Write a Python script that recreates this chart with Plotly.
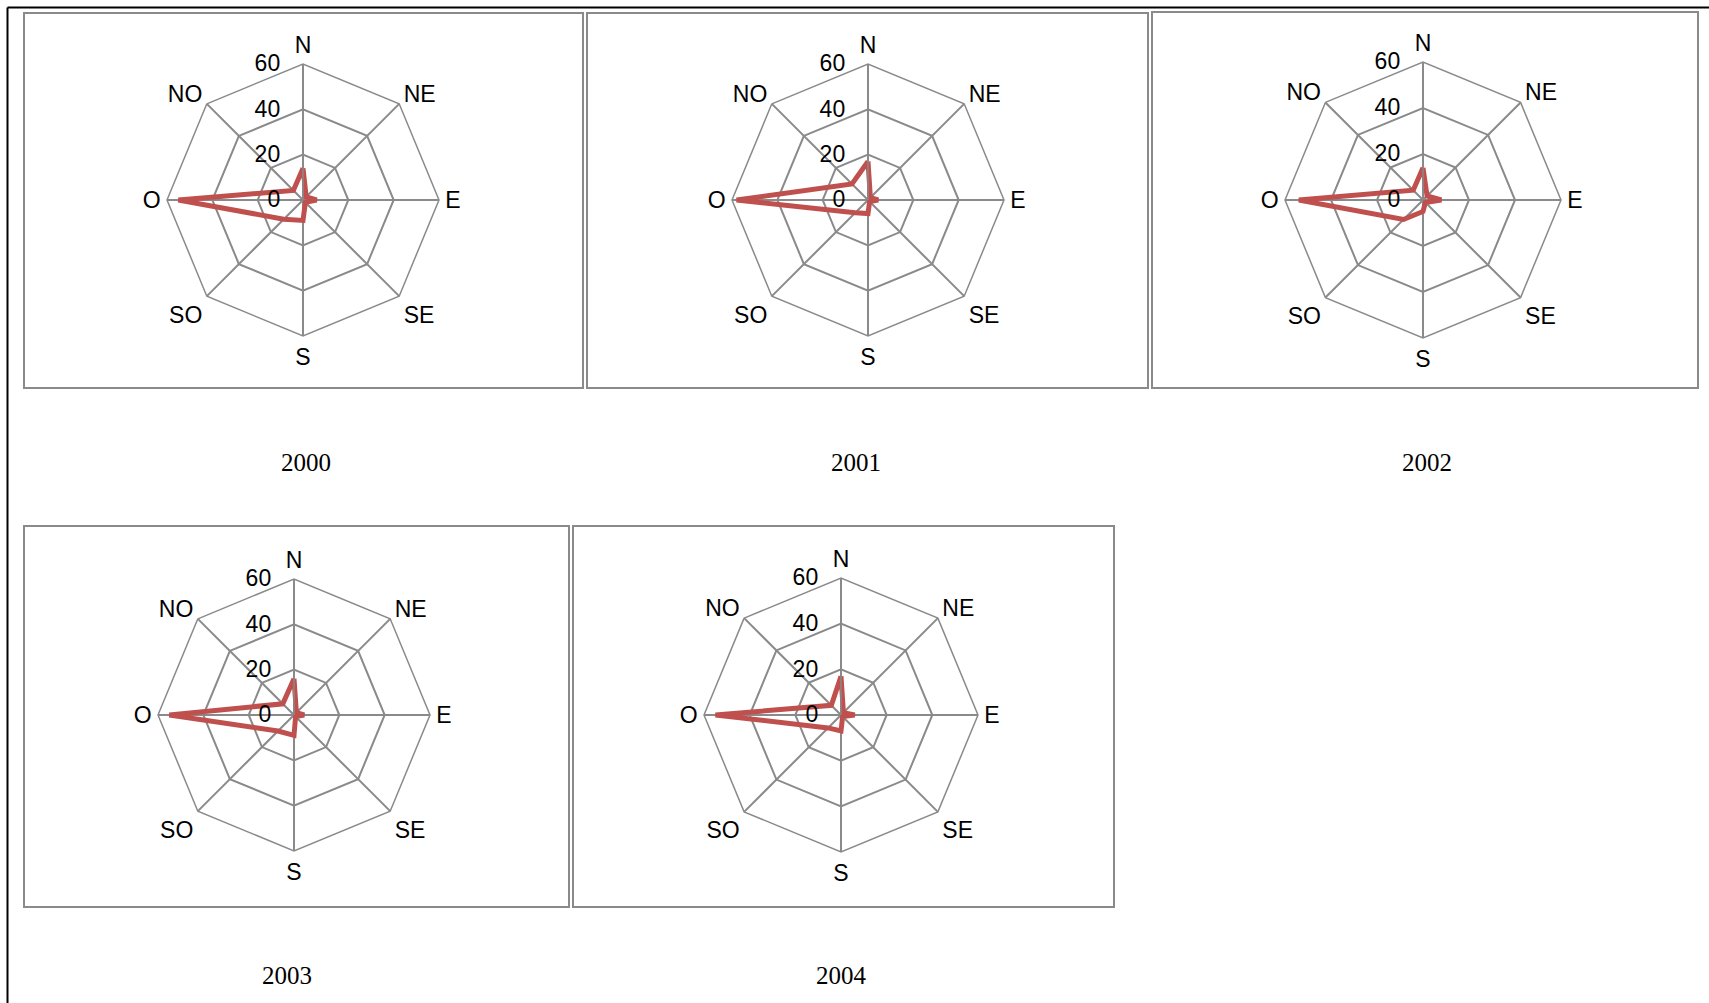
import plotly.graph_objects as go

# Wind direction frequency (%) per year
directions = ["N", "NE", "E", "SE", "S", "SO", "O", "NO"]
years = ["2000", "2001", "2002", "2003", "2004"]
freq_2000 = [14, 2, 6, 1.5, 9, 12, 55, 6]
freq_2001 = [17, 1.5, 4.5, 1, 6, 8, 58, 10]
freq_2002 = [14, 2.5, 8, 1.5, 5, 12, 54, 6]
freq_2003 = [16, 1.5, 4.5, 1, 9, 10, 55, 7]
freq_2004 = [17, 1.5, 6, 1, 7, 8, 55, 6]
radial_ticks = [0, 20, 40, 60]

series = [freq_2000, freq_2001, freq_2002, freq_2003, freq_2004]

W, H = 1709, 1003
GRID = "#8a8a8a"
RED = "#C0504D"
CLEAR = "rgba(0,0,0,0)"
SANS = "Liberation Sans, Arial, sans-serif"
SERIF = "Liberation Serif, Times New Roman, serif"

# panel layout in pixels: chart centre, chart radius, frame box, caption position
centres = [(303, 200), (868, 200), (1423, 200), (294, 715), (841, 715)]
radius = [136, 136, 138, 136, 137]
frames = [(24, 13, 583, 388), (587, 13, 1148, 388), (1152, 12, 1698, 388),
          (24, 526, 569, 907), (573, 526, 1114, 907)]
captions = [(306, 462), (856, 462), (1427, 462), (287, 975), (841, 975)]

fig = go.Figure()
layout = {}
for i, (yr, vals) in enumerate(zip(years, series)):
    key = "polar" if i == 0 else f"polar{i + 1}"
    fig.add_trace(go.Scatterpolar(
        r=vals + [vals[0]], theta=directions + [directions[0]],
        mode="lines", line=dict(color=RED, width=5),
        subplot=key, name=yr, showlegend=False, hoverinfo="r+theta",
    ))
    cx, cy = centres[i]
    R = radius[i]
    layout[key] = dict(
        domain=dict(x=[(cx - R) / W, (cx + R) / W],
                    y=[1 - (cy + R) / H, 1 - (cy - R) / H]),
        gridshape="linear",
        bgcolor="white",
        radialaxis=dict(
            range=[0, 60], tickvals=radial_ticks, angle=90,
            side="counterclockwise", tickangle=90,
            showline=True, linecolor=GRID, linewidth=1.5,
            gridcolor=GRID, gridwidth=1.5,
            ticks="outside", ticklen=14, tickcolor=CLEAR,
            tickfont=dict(family=SANS, size=23, color="black"),
        ),
        angularaxis=dict(
            categoryorder="array", categoryarray=directions,
            rotation=90, direction="clockwise",
            showline=True, linecolor=GRID, linewidth=1.5,
            gridcolor=GRID, gridwidth=1.5,
            ticks="outside", ticklen=1, tickcolor=CLEAR,
            tickfont=dict(family=SANS, size=23, color="black"),
        ),
    )

shapes = []
for (x0, y0, x1, y1) in frames:
    shapes.append(dict(type="rect", xref="paper", yref="paper",
                       x0=x0 / W, x1=x1 / W, y0=1 - y1 / H, y1=1 - y0 / H,
                       line=dict(color=GRID, width=2), layer="below"))
# outer page rule on the top and left
shapes.append(dict(type="line", xref="paper", yref="paper",
                   x0=7.5 / W, x1=1, y0=1 - 7.5 / H, y1=1 - 7.5 / H,
                   line=dict(color="black", width=2)))
shapes.append(dict(type="line", xref="paper", yref="paper",
                   x0=7.5 / W, x1=7.5 / W, y0=0, y1=1 - 7.5 / H,
                   line=dict(color="black", width=2)))

annotations = []
for yr, (tx, ty) in zip(years, captions):
    annotations.append(dict(text=yr, xref="paper", yref="paper",
                            x=tx / W, y=1 - ty / H, showarrow=False,
                            xanchor="center", yanchor="middle",
                            font=dict(family=SERIF, size=25, color="black")))

fig.update_layout(
    width=W, height=H, margin=dict(l=0, r=0, t=0, b=0),
    paper_bgcolor="white", plot_bgcolor="white",
    shapes=shapes, annotations=annotations, **layout,
)

fig.write_html("out.html")
